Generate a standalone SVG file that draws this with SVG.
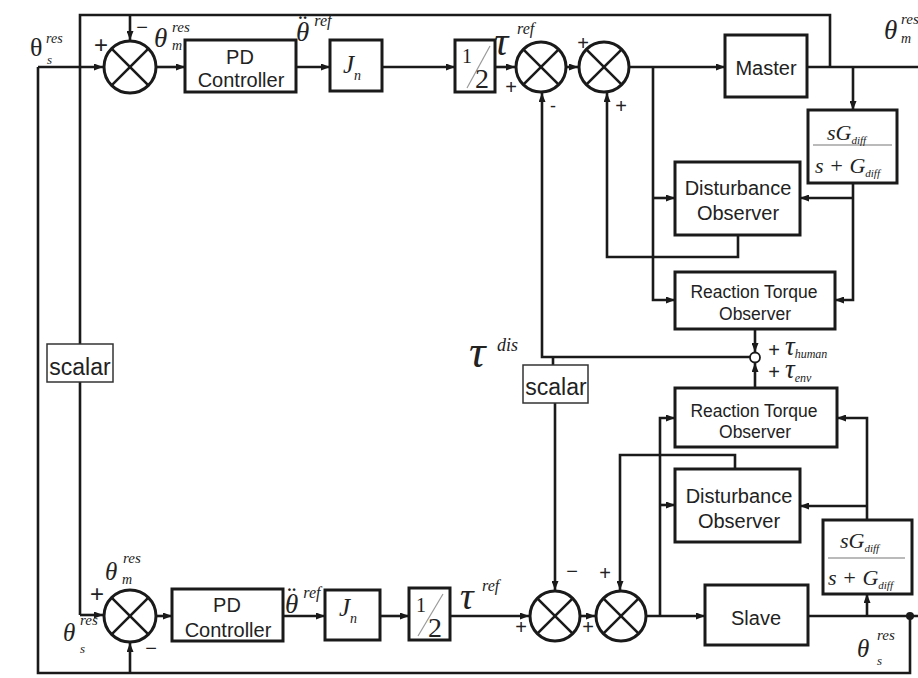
<svg xmlns="http://www.w3.org/2000/svg" width="918" height="678" viewBox="0 0 918 678">
<defs>
<marker id="ah" markerWidth="9" markerHeight="7" refX="9" refY="3.5" orient="auto" markerUnits="userSpaceOnUse"><path d="M0,0 L9,3.5 L0,7 z" fill="#1a1a1a"/></marker>
</defs>
<style>
.ln{fill:none;stroke:#1a1a1a;stroke-width:2.6}
.ar{fill:none;stroke:#1a1a1a;stroke-width:2.6;marker-end:url(#ah)}
.bx{fill:#fff;stroke:#1a1a1a;stroke-width:3}
.sbx{fill:#fff;stroke:#333;stroke-width:1.5}
.sum{fill:#fff;stroke:#1a1a1a;stroke-width:3}
.x{stroke:#1a1a1a;stroke-width:2.6}
.t{font-family:"Liberation Sans",Arial,sans-serif;font-size:20px;fill:#222;text-anchor:middle}
.t2{font-family:"Liberation Sans",Arial,sans-serif;font-size:17.5px;fill:#222;text-anchor:middle}
.sc{font-family:"Liberation Sans",Arial,sans-serif;font-size:23px;fill:#222;text-anchor:middle}
.m{font-family:"Liberation Serif","Times New Roman",serif;font-style:italic;fill:#222}
.u{font-family:"Liberation Serif","Times New Roman",serif;fill:#222}
.sg{font-family:"Liberation Sans",Arial,sans-serif;fill:#222;text-anchor:middle}
</style>
<rect width="918" height="678" fill="#fff"/>

<g id="connectors">
<path class="ln" d="M808,616 H918"/>
<path class="ln" d="M910,616 V673 H38 V67"/>
<path class="ar" d="M38,67 H103"/>
<path class="ar" d="M130,673 V643"/>
<path class="ln" d="M807,67 H918"/>
<path class="ln" d="M830,67 V15 H80 V615"/>
<path class="ar" d="M80,615 H103"/>
<path class="ar" d="M130,15 V40"/>
<path class="ar" d="M157,67 H185"/>
<path class="ar" d="M296,67 H330"/>
<path class="ar" d="M382,67 H455"/>
<path class="ar" d="M495,67 H515"/>
<path class="ar" d="M567,67 H578"/>
<path class="ar" d="M630,67 H725"/>
<path class="ar" d="M653,67 V300 H675"/>
<path class="ar" d="M653,198 H675"/>
<path class="ar" d="M738,235 V257 H607 V93"/>
<path class="ar" d="M853,67 V110"/>
<path class="ar" d="M853,183 V300 H835"/>
<path class="ar" d="M853,198 H800"/>
<path class="ar" d="M755,329 V352"/>
<path class="ar" d="M755,388 V363"/>
<path class="ar" d="M750,357 H542 V93"/>
<path class="ln" d="M553,357 V365"/>
<path class="ar" d="M555,403 V590"/>
<path class="ar" d="M157,616 H172"/>
<path class="ar" d="M283,616 H325"/>
<path class="ar" d="M380,616 H409"/>
<path class="ar" d="M450,616 H529"/>
<path class="ar" d="M581,616 H595"/>
<path class="ar" d="M647,616 H705"/>
<path class="ar" d="M660,616 V418 H675"/>
<path class="ar" d="M660,505 H675"/>
<path class="ar" d="M735,469 V455 H620 V590"/>
<path class="ar" d="M867,616 V594"/>
<path class="ar" d="M867,520 V418 H837"/>
<path class="ar" d="M867,506 H800"/>
<circle cx="910" cy="616" r="4" fill="#1a1a1a"/>
</g>

<g id="sum1"><circle class="sum" cx="130" cy="67" r="26"/><line class="x" x1="111.6" y1="48.6" x2="148.4" y2="85.4"/><line class="x" x1="148.4" y1="48.6" x2="111.6" y2="85.4"/></g>
<g id="sum2"><circle class="sum" cx="541" cy="67" r="25"/><line class="x" x1="523.3" y1="49.3" x2="558.7" y2="84.7"/><line class="x" x1="558.7" y1="49.3" x2="523.3" y2="84.7"/></g>
<g id="sum3"><circle class="sum" cx="604" cy="67" r="25"/><line class="x" x1="586.3" y1="49.3" x2="621.7" y2="84.7"/><line class="x" x1="621.7" y1="49.3" x2="586.3" y2="84.7"/></g>
<g id="sum4"><circle class="sum" cx="130" cy="616" r="26"/><line class="x" x1="111.6" y1="597.6" x2="148.4" y2="634.4"/><line class="x" x1="148.4" y1="597.6" x2="111.6" y2="634.4"/></g>
<g id="sum5"><circle class="sum" cx="555" cy="616" r="25"/><line class="x" x1="537.3" y1="598.3" x2="572.7" y2="633.7"/><line class="x" x1="572.7" y1="598.3" x2="537.3" y2="633.7"/></g>
<g id="sum6"><circle class="sum" cx="621" cy="616" r="25"/><line class="x" x1="603.3" y1="598.3" x2="638.7" y2="633.7"/><line class="x" x1="638.7" y1="598.3" x2="603.3" y2="633.7"/></g>
<g id="sumTorque"><circle cx="755" cy="357.5" r="5" fill="#fff" stroke="#1a1a1a" stroke-width="1.8"/></g>

<g id="pd1"><rect class="bx" x="185" y="40" width="111" height="52"/><text class="t" x="240" y="64">PD</text><text class="t" x="241" y="87">Controller</text></g>
<g id="jn1"><rect class="bx" x="330" y="40" width="52" height="51"/><text class="m" x="343" y="73" font-size="25">J<tspan font-size="14" dy="7">n</tspan></text></g>
<g id="half1"><rect class="bx" x="455" y="40" width="40" height="52"/><line x1="490" y1="46" x2="467" y2="88" stroke="#999" stroke-width="1.2"/><text class="u" x="462" y="63" font-size="20">1</text><text class="u" x="475" y="88" font-size="28">2</text></g>
<g id="master"><rect class="bx" x="725" y="35" width="82" height="62"/><text class="t" x="766" y="75">Master</text></g>
<g id="gdiff1"><rect class="bx" x="808" y="110" width="89" height="73"/><line x1="813" y1="145" x2="892" y2="145" stroke="#777" stroke-width="1.2"/><text class="m" x="827" y="140" font-size="22">sG<tspan font-size="11" dy="4">diff</tspan></text><text class="m" x="815" y="173" font-size="22">s + G<tspan font-size="11" dy="4">diff</tspan></text></g>
<g id="dob1"><rect class="bx" x="675" y="162" width="125" height="73"/><text class="t" x="738" y="195">Disturbance</text><text class="t" x="738" y="220">Observer</text></g>
<g id="rto1"><rect class="bx" x="675" y="272" width="160" height="57"/><text class="t2" x="754" y="298">Reaction Torque</text><text class="t2" x="755" y="320">Observer</text></g>
<g id="scalar1"><rect class="sbx" x="47" y="344" width="66" height="38"/><text class="sc" x="80" y="375">scalar</text></g>
<g id="scalar2"><rect class="sbx" x="523" y="365" width="65" height="38"/><text class="sc" x="556" y="395">scalar</text></g>
<g id="rto2"><rect class="bx" x="675" y="388" width="162" height="59"/><text class="t2" x="754" y="417">Reaction Torque</text><text class="t2" x="755" y="438">Observer</text></g>
<g id="dob2"><rect class="bx" x="675" y="469" width="125" height="73"/><text class="t" x="739" y="503">Disturbance</text><text class="t" x="739" y="528">Observer</text></g>
<g id="gdiff2"><rect class="bx" x="823" y="520" width="89" height="74"/><line x1="828" y1="558" x2="905" y2="558" stroke="#777" stroke-width="1.2"/><text class="m" x="840" y="548" font-size="22">sG<tspan font-size="11" dy="4">diff</tspan></text><text class="m" x="828" y="585" font-size="22">s + G<tspan font-size="11" dy="4">diff</tspan></text></g>
<g id="slave"><rect class="bx" x="705" y="585" width="103" height="60"/><text class="t" x="756" y="625">Slave</text></g>
<g id="pd2"><rect class="bx" x="172" y="589" width="111" height="52"/><text class="t" x="227" y="612">PD</text><text class="t" x="228" y="637">Controller</text></g>
<g id="jn2"><rect class="bx" x="325" y="590" width="55" height="50"/><text class="m" x="339" y="616" font-size="25">J<tspan font-size="14" dy="7">n</tspan></text></g>
<g id="half2"><rect class="bx" x="409" y="588" width="41" height="52"/><line x1="443" y1="594" x2="418" y2="636" stroke="#999" stroke-width="1.2"/><text class="u" x="416" y="612" font-size="20">1</text><text class="u" x="428" y="637" font-size="28">2</text></g>

<g id="labels">
<text class="u" x="30" y="56" font-size="26">θ</text><text class="m" x="46" y="43" font-size="14">res</text><text class="m" x="47" y="64" font-size="13">s</text>
<text class="sg" x="101" y="53" font-size="24">+</text>
<text class="sg" x="142" y="34" font-size="20">−</text>
<text class="m" x="154" y="47" font-size="27">θ</text><text class="m" x="172" y="32" font-size="15">res</text><text class="m" x="172" y="50" font-size="14">m</text>
<text class="m" x="296" y="41" font-size="27">θ<tspan class="u" font-style="normal" dx="-11" dy="-7">¨</tspan><tspan font-size="16" dx="7" dy="-8">ref</tspan></text>
<text class="m" x="494" y="55" font-size="40">τ</text><text class="m" x="517" y="34" font-size="16">ref</text>
<text class="sg" x="511" y="94" font-size="20">+</text>
<text class="sg" x="553" y="112" font-size="18">-</text>
<text class="sg" x="583" y="50" font-size="20">+</text>
<text class="sg" x="621" y="113" font-size="20">+</text>
<text class="m" x="884" y="39" font-size="27">θ</text><text class="m" x="901" y="24" font-size="15">res</text><text class="m" x="901" y="43" font-size="14">m</text>
<text class="m" x="469" y="367" font-size="46">τ</text><text class="m" x="497" y="351" font-size="18">dis</text>
<text class="sg" x="774" y="357" font-size="20">+</text><text class="m" x="785" y="355" font-size="27">τ<tspan font-size="12" dy="3">human</tspan></text>
<text class="sg" x="774" y="379" font-size="20">+</text><text class="m" x="785" y="378" font-size="27">τ<tspan font-size="12" dy="4">env</tspan></text>
<text class="m" x="105" y="580" font-size="25">θ</text><text class="m" x="123" y="563" font-size="15">res</text><text class="m" x="122" y="584" font-size="14">m</text>
<text class="sg" x="97" y="602" font-size="24">+</text>
<text class="m" x="63" y="641" font-size="25">θ</text><text class="m" x="80" y="625" font-size="15">res</text><text class="m" x="80" y="653" font-size="13">s</text>
<text class="sg" x="151" y="655" font-size="20">−</text>
<text class="m" x="285" y="613" font-size="27">θ<tspan class="u" font-style="normal" dx="-11" dy="-7">¨</tspan><tspan font-size="16" dx="7" dy="-8">ref</tspan></text>
<text class="m" x="460" y="609" font-size="38">τ</text><text class="m" x="482" y="591" font-size="16">ref</text>
<text class="sg" x="521" y="634" font-size="20">+</text>
<text class="sg" x="572" y="578" font-size="20">−</text>
<text class="sg" x="605" y="580" font-size="20">+</text>
<text class="sg" x="588" y="634" font-size="20">+</text>
<text class="m" x="857" y="657" font-size="25">θ</text><text class="m" x="877" y="640" font-size="15">res</text><text class="m" x="877" y="665" font-size="13">s</text>
</g>
</svg>
